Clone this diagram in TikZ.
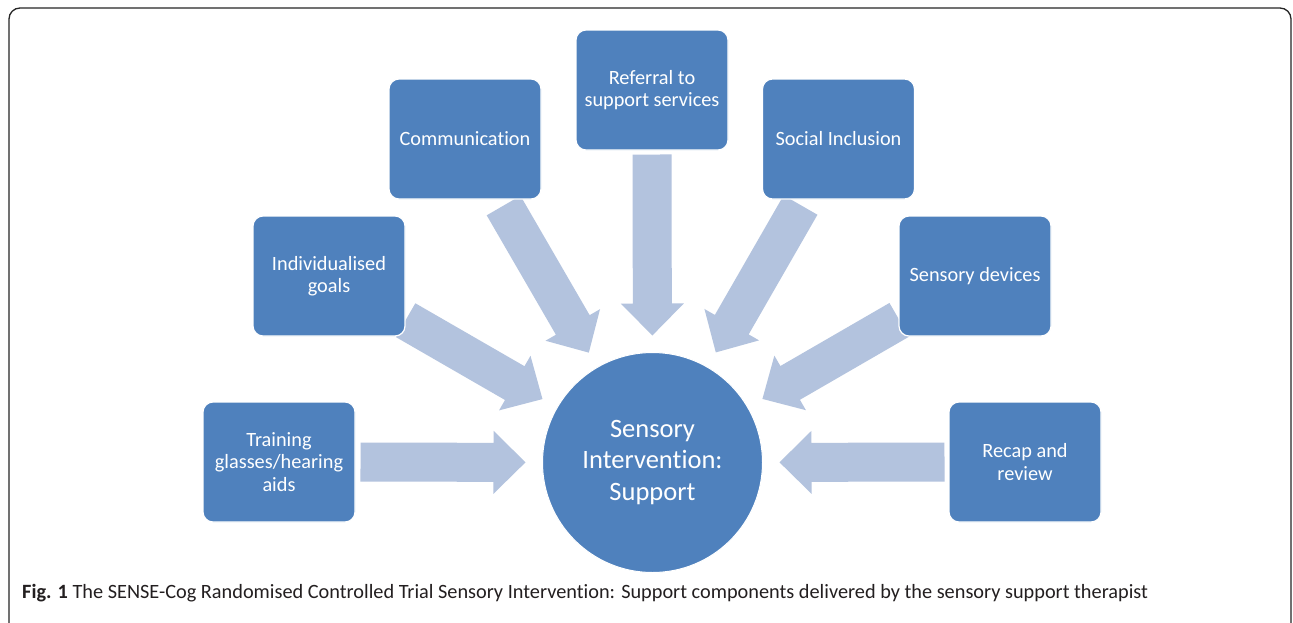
\documentclass[tikz,border=0pt]{standalone}
\usepackage{fontspec}
\setmainfont{Carlito}[Ligatures=NoCommon]
\usetikzlibrary{calc}
\definecolor{boxblue}{HTML}{4F81BD}
\definecolor{arrblue}{HTML}{B3C3DE}
\definecolor{captxt}{HTML}{231F20}
\tikzset{
  itembox/.style={draw=white, line width=1.2pt, fill=boxblue, rounded corners=10pt,
    minimum width=152pt, minimum height=120pt, text=white, align=center,
    font=\fontsize{20.3}{22.5}\selectfont, inner sep=2pt},
  hub/.style={circle, fill=boxblue, draw=white, line width=1pt, minimum size=220pt, text=white,
    align=center, font=\fontsize{26.5}{31.5}\selectfont, inner sep=0pt},
  arrowfill/.style={fill=arrblue},
  frame/.style={draw=black!85, line width=1.3pt, rounded corners=11pt}
}
\newcommand{\blockarrow}[2]{%
  \coordinate (bT) at ($(c)!#2!(#1.center)$);
  \coordinate (bP) at ($(c)!127pt!(#1.center)$);
  \coordinate (bH) at ($(c)!159pt!(#1.center)$);
  \fill[arrowfill] ($(bT)!19.5pt!90:(bP)$) -- ($(bH)!19.5pt!90:(bP)$) -- ($(bH)!31.5pt!90:(bP)$)
    -- (bP) -- ($(bH)!31.5pt!-90:(bP)$) -- ($(bH)!19.5pt!-90:(bP)$) -- ($(bT)!19.5pt!-90:(bP)$) -- cycle;
}
\begin{document}
\begin{tikzpicture}[x=1pt,y=-1pt]
\useasboundingbox (0,0) rectangle (1293,622);
\fill[white] (0,0) rectangle (1293,622);
\draw[frame] (9,640) -- (9,8) -- (1291,8) -- (1291,640);
% positions
\coordinate (c) at (652.5,462.5);
\path (279,462) coordinate (p1) (329,276) coordinate (p2) (465,139) coordinate (p3)
      (652,90) coordinate (p4) (838.5,139) coordinate (p5) (975,276) coordinate (p6) (1025,462) coordinate (p7);
\path (p1) node[itembox] (train) {Training\\glasses/hearing\\aids};
\path (p2) node[itembox] (goals) {Individualised\\goals};
\path (p3) node[itembox] (comm) {Communication};
\path (p4) node[itembox] (ref) {Referral to\\support services};
\path (p5) node[itembox] (soc) {Social Inclusion};
\path (p6) node[itembox] (dev) {Sensory devices};
\path (p7) node[itembox] (rec) {Recap and\\review};
% arrows (drawn between boxes and hub)
\blockarrow{train}{292pt}
\blockarrow{goals}{285pt}
\blockarrow{comm}{297pt}
\blockarrow{ref}{308pt}
\blockarrow{soc}{297pt}
\blockarrow{dev}{285pt}
\blockarrow{rec}{292pt}
% redraw boxes on top
\path (p1) node[itembox] {Training\\glasses/hearing\\aids};
\path (p2) node[itembox] {Individualised\\goals};
\path (p3) node[itembox] {Communication};
\path (p4) node[itembox] {Referral to\\support services};
\path (p5) node[itembox] {Social Inclusion};
\path (p6) node[itembox] {Sensory devices};
\path (p7) node[itembox] {Recap and\\review};
\node[hub] (hubnode) at (c) {Sensory\\Intervention:\\Support};
\node[anchor=base west, inner sep=0pt, text=captxt, font=\fontsize{20.3}{22}\selectfont] (cap) at (22,598)
  {\textbf{Fig. 1} The SENSE-Cog Randomised Controlled Trial Sensory Intervention: Support components delivered by the sensory support therapist};
\end{tikzpicture}
\end{document}
